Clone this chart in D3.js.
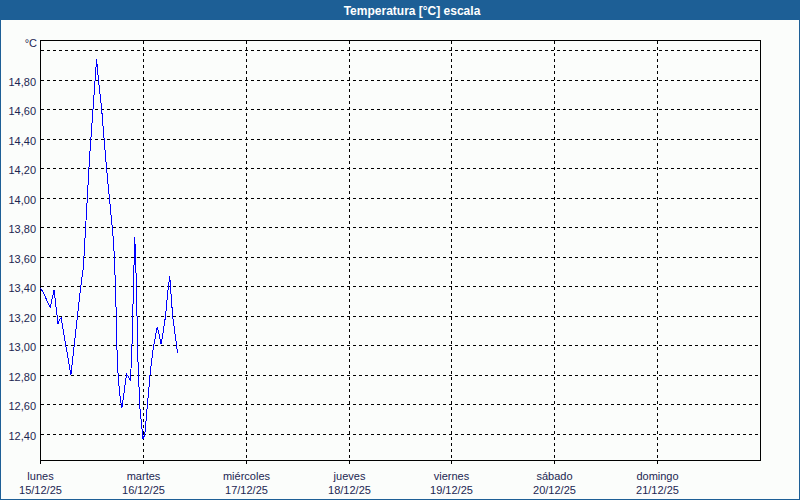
<!DOCTYPE html>
<html>
<head>
<meta charset="utf-8">
<script src="https://cdn.jsdelivr.net/npm/d3@7"></script>
<style>
  html, body { margin: 0; padding: 0; background: #fbfdfb; }
  svg { display: block; }
  text { font-family: "Liberation Sans", Arial, sans-serif; }
</style>
</head>
<body>
<svg id="chart" width="800" height="500"></svg>
<script>
// ---- data ----
const title = "Temperatura [°C] escala";
const unitLabel = "°C";
const times = [
  "15/12/2025 00:00","15/12/2025 00:40","15/12/2025 02:15","15/12/2025 03:10","15/12/2025 04:05",
  "15/12/2025 04:30","15/12/2025 04:50","15/12/2025 07:05","15/12/2025 09:20","15/12/2025 10:00",
  "15/12/2025 11:30","15/12/2025 13:05","15/12/2025 13:30","15/12/2025 14:15","15/12/2025 15:25",
  "15/12/2025 16:45","15/12/2025 17:05","15/12/2025 17:30","15/12/2025 17:45","15/12/2025 17:55",
  "15/12/2025 18:15","15/12/2025 18:40","15/12/2025 19:00","15/12/2025 20:05","15/12/2025 20:30",
  "15/12/2025 21:00","15/12/2025 21:25","15/12/2025 21:40","15/12/2025 22:00","15/12/2025 22:25",
  "15/12/2025 22:40","15/12/2025 23:10","15/12/2025 23:55","16/12/2025 00:20","16/12/2025 00:55",
  "16/12/2025 01:40","16/12/2025 02:20","16/12/2025 03:15","16/12/2025 04:10","16/12/2025 05:10",
  "16/12/2025 05:40","16/12/2025 06:10","16/12/2025 06:50","16/12/2025 07:30","16/12/2025 08:00"
];
const temps = [
  13.39,13.36,13.26,13.38,13.15,
  13.18,13.19,12.80,13.39,13.53,
  14.30,14.94,14.81,14.61,14.20,
  13.80,13.69,13.40,13.11,12.88,
  12.75,12.63,12.58,12.81,12.79,
  12.76,13.06,13.38,13.74,13.38,
  12.95,12.59,12.37,12.40,12.59,
  12.84,12.99,13.13,13.01,13.20,
  13.36,13.47,13.20,13.06,12.95
];
const dayNames = ["lunes","martes","miércoles","jueves","viernes","sábado","domingo"];
const dayDates = ["15/12/25","16/12/25","17/12/25","18/12/25","19/12/25","20/12/25","21/12/25"];
const yTicks = [12.4,12.6,12.8,13.0,13.2,13.4,13.6,13.8,14.0,14.2,14.4,14.6,14.8,15.0];
const yDomain = [12.224, 15.0677];
const xStart = "15/12/2025 00:00";
const xEnd = "22/12/2025 00:00";

// ---- drawing ----
const W = 800, H = 500;
const L = 40.5, R = 760.5, T = 40.5, B = 460.5;
const textColor = "#1b2652";
const svg = d3.select("#chart");
const parse = d3.timeParse("%d/%m/%Y %H:%M");

svg.append("rect").attr("x",0).attr("y",0).attr("width",W).attr("height",H).attr("fill","#fbfdfb");
// outer border
svg.append("rect").attr("x",0.5).attr("y",0.5).attr("width",W-1).attr("height",H-1)
  .attr("fill","none").attr("stroke","#1d5f96").attr("stroke-width",1).attr("shape-rendering","crispEdges");
// title bar
svg.append("rect").attr("x",0).attr("y",0).attr("width",W).attr("height",20).attr("fill","#1d5f96");
svg.append("text").attr("x",412).attr("y",14.5).attr("text-anchor","middle")
  .attr("fill","#ffffff").attr("font-weight","bold").attr("font-size","12px").text(title);

const x = d3.scaleTime().domain([parse(xStart), parse(xEnd)]).range([L, R]);
const y = d3.scaleLinear().domain(yDomain).range([B, T]);
const snap = v => Math.floor(v) + 0.5;

const g = svg.append("g").attr("shape-rendering","crispEdges");

// horizontal grid
yTicks.forEach(v => {
  const yy = snap(y(v));
  g.append("line").attr("x1",L).attr("x2",R).attr("y1",yy).attr("y2",yy)
    .attr("stroke","#000").attr("stroke-width",1).attr("stroke-dasharray","3,3");
  if (v < 14.99) {
    svg.append("text").attr("x",36).attr("y",yy+5.5).attr("text-anchor","end")
      .attr("fill",textColor).attr("font-size","11px")
      .text(d3.format(".2f")(v).replace(".", ","));
  }
});
svg.append("text").attr("x",37).attr("y",47).attr("text-anchor","end")
  .attr("fill",textColor).attr("font-size","11px").text(unitLabel);

// vertical grid + ticks + labels
const days = d3.timeDay.range(parse(xStart), parse(xEnd));
days.forEach((d, i) => {
  const xx = snap(x(d));
  if (i > 0) {
    g.append("line").attr("x1",xx).attr("x2",xx).attr("y1",T).attr("y2",B)
      .attr("stroke","#000").attr("stroke-width",1).attr("stroke-dasharray","3,3");
  }
  g.append("line").attr("x1",xx).attr("x2",xx).attr("y1",B).attr("y2",B+3.5)
    .attr("stroke","#000").attr("stroke-width",1);
  svg.append("text").attr("x",xx).attr("y",480).attr("text-anchor","middle")
    .attr("fill",textColor).attr("font-size","11px").text(dayNames[i]);
  svg.append("text").attr("x",xx).attr("y",494).attr("text-anchor","middle")
    .attr("fill",textColor).attr("font-size","11px").text(dayDates[i]);
});

// frame
g.append("rect").attr("x",L).attr("y",T).attr("width",R-L).attr("height",B-T)
  .attr("fill","none").attr("stroke","#000").attr("stroke-width",1);

// data line
const data = times.map((t, i) => ({ t: parse(t), v: temps[i] }));
svg.append("path").datum(data)
  .attr("fill","none").attr("stroke","#0000ff").attr("stroke-width",1)
  .attr("shape-rendering","crispEdges")
  .attr("d", d3.line().x(d => x(d.t)).y(d => y(d.v)));
</script>
</body>
</html>
